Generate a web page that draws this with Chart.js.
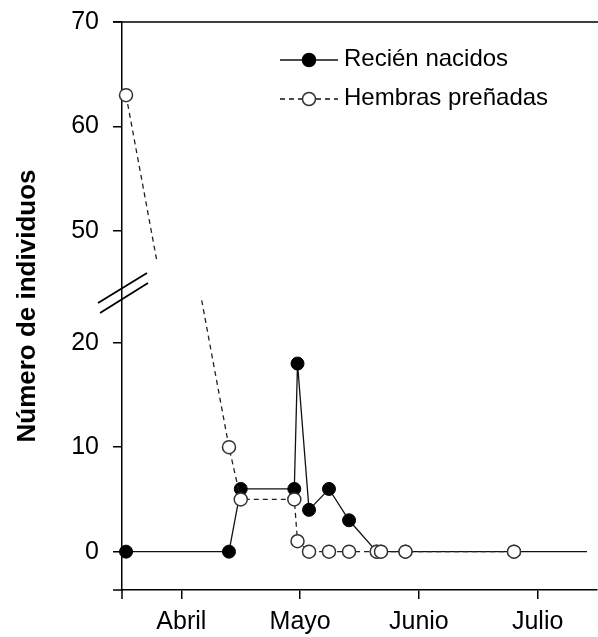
<!DOCTYPE html>
<html>
<head>
<meta charset="utf-8">
<script src="https://cdn.jsdelivr.net/npm/chart.js@4/dist/chart.umd.min.js"></script>
<style>
  body { margin: 0; background: #fff; }
  canvas { display: block; }
</style>
</head>
<body>
<canvas id="grafico" width="598" height="637"></canvas>
<script>
// Fechas de muestreo (en meses: 1 = Abril, 2 = Mayo...)
const fechas = [0.534, 1.401, 1.500, 1.951, 1.978, 2.075, 2.243, 2.412, 2.645, 2.681, 2.887, 3.801, 4.416];
const recienNacidos = [0, 0, 6, 6, 18, 4, 6, 3, 0, 0, 0, 0, 0];
const hembrasPrenadas = [63, 10, 5, 5, 1, 0, 0, 0, 0, 0, 0, 0, null];

// Etiquetas de los ejes
const meses = ['Abril', 'Mayo', 'Junio', 'Julio'];
const posMeses = [1, 2, 3, 4];
const yTicksBajo = [0, 10, 20];
const yTicksAlto = [50, 60, 70];

// Eje Y cortado: el tramo alto se dibuja desplazado
const OFFSET = 19.32;
const Y_MIN = -3.67;
const Y_MAX = 70 - OFFSET;
const CORTE_BAJO = 24.4;   // arriba del tramo bajo
const CORTE_ALTO = 47.3;   // abajo del tramo alto

const fuente = "'Liberation Sans', Arial, sans-serif";

const puntos = (valores, desplazar) => fechas
    .map((x, i) => ({ x: x, y: valores[i] == null ? null : valores[i] - desplazar }))
    .filter(p => p.y !== null);

const estiloHembras = {
    borderColor: '#222',
    borderWidth: 1.3,
    borderDash: [5, 4],
    pointRadius: 6.5,
    pointBorderWidth: 1.5,
    pointBackgroundColor: '#fff',
    pointBorderColor: '#333',
    tension: 0,
    clip: false,
    order: 0
};

const datos = {
    datasets: [
        Object.assign({ label: 'Hembras preñadas', data: puntos(hembrasPrenadas, 0), tramo: 'bajo' }, estiloHembras),
        Object.assign({ label: 'Hembras preñadas (alto)', data: puntos(hembrasPrenadas, OFFSET), tramo: 'alto' }, estiloHembras),
        {
            label: 'Recién nacidos',
            data: puntos(recienNacidos, 0),
            borderColor: '#111',
            borderWidth: 1.3,
            pointRadius: ctx => ctx.dataIndex === fechas.length - 1 ? 0 : 6.5,
            pointBackgroundColor: '#000',
            pointBorderColor: '#000',
            pointBorderWidth: 1,
            tension: 0,
            clip: false,
            order: 1
        }
    ]
};

// Recorta cada tramo del eje cortado
const cortePlugin = {
    id: 'corte',
    beforeDatasetDraw(chart, args) {
        const ds = chart.data.datasets[args.index];
        if (!ds.tramo) return;
        const y = chart.scales.y, a = chart.chartArea, ctx = chart.ctx;
        let top, bottom;
        if (ds.tramo === 'bajo') {
            top = y.getPixelForValue(CORTE_BAJO);
            bottom = a.bottom + 10;
        } else {
            top = a.top - 10;
            bottom = y.getPixelForValue(CORTE_ALTO - OFFSET);
        }
        ctx.save();
        ctx.beginPath();
        ctx.rect(a.left - 10, top, a.right - a.left + 20, bottom - top);
        ctx.clip();
    },
    afterDatasetDraw(chart, args) {
        if (chart.data.datasets[args.index].tramo) chart.ctx.restore();
    }
};

// Líneas extra, marcas del corte y leyenda
const decoPlugin = {
    id: 'deco',
    afterDraw(chart) {
        const ctx = chart.ctx, a = chart.chartArea, y = chart.scales.y;
        ctx.save();
        ctx.strokeStyle = '#000';
        ctx.lineWidth = 1.5;
        ctx.beginPath();
        ctx.moveTo(a.left - 9, a.top); ctx.lineTo(chart.width, a.top);
        ctx.moveTo(a.left - 9, a.bottom); ctx.lineTo(a.left, a.bottom);
        ctx.moveTo(a.left, a.bottom); ctx.lineTo(a.left, a.bottom + 9);
        ctx.stroke();

        // marcas del corte
        const yc = y.getPixelForValue(24.75);
        ctx.lineWidth = 1.8;
        ctx.beginPath();
        ctx.moveTo(a.left - 24, yc + 10); ctx.lineTo(a.left + 25, yc - 20);
        ctx.moveTo(a.left - 22, yc + 20); ctx.lineTo(a.left + 26, yc - 10);
        ctx.stroke();

        // leyenda
        const filas = [
            { y: 60, dash: [], relleno: '#000', borde: '#000', texto: 'Recién nacidos' },
            { y: 99, dash: [5, 4], relleno: '#fff', borde: '#333', texto: 'Hembras preñadas' }
        ];
        filas.forEach(f => {
            ctx.setLineDash(f.dash);
            ctx.lineWidth = 1.3;
            ctx.strokeStyle = '#111';
            ctx.beginPath();
            ctx.moveTo(280, f.y); ctx.lineTo(338, f.y);
            ctx.stroke();
            ctx.setLineDash([]);
            ctx.beginPath();
            ctx.arc(309, f.y, 6.5, 0, Math.PI * 2);
            ctx.fillStyle = f.relleno;
            ctx.fill();
            ctx.lineWidth = 1.5;
            ctx.strokeStyle = f.borde;
            ctx.stroke();
            ctx.fillStyle = '#000';
            ctx.font = '24px ' + fuente;
            ctx.textBaseline = 'middle';
            ctx.textAlign = 'left';
            ctx.fillText(f.texto, 344, f.y - 1);
        });
        ctx.restore();
    }
};

const opciones = {
    responsive: false,
    animation: false,
    layout: { autoPadding: false, padding: { top: 22, right: 1, left: 0, bottom: 0 } },
    plugins: {
        legend: { display: false },
        tooltip: { enabled: false }
    },
    scales: {
        x: {
            type: 'linear',
            min: 0.5,
            max: 4.5,
            afterBuildTicks: s => { s.ticks = posMeses.map(v => ({ value: v })); },
            afterFit: s => { s.height = 47; s.paddingLeft = 0; s.paddingRight = 0; },
            ticks: {
                color: '#000',
                font: { family: fuente, size: 25 },
                padding: 8,
                maxRotation: 0,
                callback: v => meses[posMeses.indexOf(v)] || ''
            },
            grid: { drawOnChartArea: false, color: '#000', tickLength: 9, lineWidth: 1.5 },
            border: { display: true, color: '#000', width: 1.5 }
        },
        y: {
            type: 'linear',
            min: Y_MIN,
            max: Y_MAX,
            afterBuildTicks: s => {
                s.ticks = yTicksBajo.concat(yTicksAlto.map(v => v - OFFSET)).map(v => ({ value: v }));
            },
            afterFit: s => { s.width = 122; s.paddingTop = 0; s.paddingBottom = 0; },
            ticks: {
                color: '#000',
                font: { family: fuente, size: 25 },
                padding: 14,
                callback: v => v > CORTE_BAJO ? String(Math.round(v + OFFSET)) : String(v)
            },
            grid: { drawOnChartArea: false, color: '#000', tickLength: 9, lineWidth: 1.5 },
            border: { display: true, color: '#000', width: 1.5 },
            title: {
                display: true,
                text: 'Número de individuos',
                color: '#000',
                font: { family: fuente, size: 26, weight: 'bold' },
                padding: { top: 12, bottom: 0 }
            }
        }
    }
};

window.onload = function() {
    const ctx = document.getElementById('grafico').getContext('2d');
    new Chart(ctx, {
        type: 'line',
        data: datos,
        options: opciones,
        plugins: [cortePlugin, decoPlugin]
    });
};
</script>
</body>
</html>
